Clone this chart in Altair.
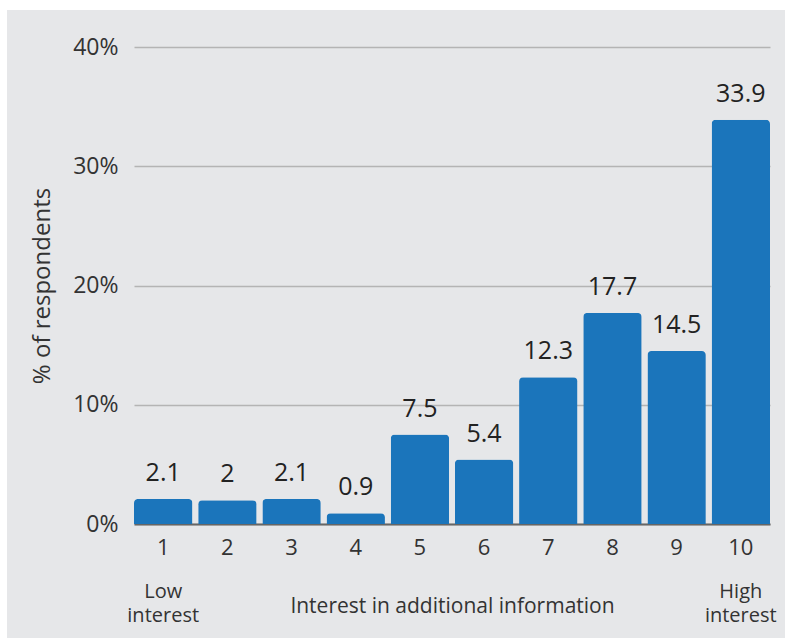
import altair as alt
import pandas as pd

# Survey results: interest in additional information (1 = low, 10 = high)
scores = ["1", "2", "3", "4", "5", "6", "7", "8", "9", "10"]
shares = [2.1, 2, 2.1, 0.9, 7.5, 5.4, 12.3, 17.7, 14.5, 33.9]
value_labels = ["2.1", "2", "2.1", "0.9", "7.5", "5.4", "12.3", "17.7", "14.5", "33.9"]

# scale-end captions under the first and last scores, two lines each
end_scores = ["1", "10"]
end_first_line = ["Low", "High"]
end_second_line = ["interest", "interest"]

df = pd.DataFrame({"score": scores, "share": shares, "label": value_labels})
ends_df = pd.DataFrame({"score": end_scores, "first": end_first_line, "second": end_second_line})

FONT = "Open Sans"
BLUE = "#1b75bb"
PANEL = "#e6e7e9"

x_enc = alt.X(
    "score:N",
    sort=scores,
    scale=alt.Scale(paddingInner=0.09, paddingOuter=0.0),
    axis=alt.Axis(
        title="Interest in additional information",
        titleFont=FONT, titleFontSize=21, titleFontWeight="normal", titleColor="#333333",
        titlePadding=37,
        labelFont=FONT, labelFontSize=22, labelColor="#333333", labelPadding=13,
        labelAngle=0, ticks=False, domain=True, domainColor="#666666", domainWidth=2,
    ),
)
y_enc = alt.Y(
    "share:Q",
    scale=alt.Scale(domain=[0, 40], nice=False),
    axis=alt.Axis(
        title="% of respondents",
        titleFont=FONT, titleFontSize=24, titleFontWeight="normal", titleColor="#333333",
        titlePadding=18,
        values=[0, 10, 20, 30, 40],
        labelExpr="datum.value + '%'",
        labelFont=FONT, labelFontSize=23, labelColor="#333333", labelPadding=16,
        ticks=False, domain=False,
        grid=True, gridColor="#b4b4b4", gridWidth=1.6,
    ),
)

# white page margin above and to the left of the grey panel
margin_left = alt.Chart(pd.DataFrame({"k": [0]})).mark_rect(color="white", clip=False).encode(
    x=alt.value(-134), x2=alt.value(-127), y=alt.value(-47), y2=alt.value(591)
)
margin_top = alt.Chart(pd.DataFrame({"k": [0]})).mark_rect(color="white", clip=False).encode(
    x=alt.value(-134), x2=alt.value(651), y=alt.value(-47), y2=alt.value(-37)
)

bars = alt.Chart(df).mark_bar(color=BLUE, cornerRadiusTopLeft=4, cornerRadiusTopRight=4).encode(
    x=x_enc, y=y_enc
)

labels = alt.Chart(df).mark_text(
    font=FONT, fontSize=25, fontWeight=500, color="#222222", baseline="bottom", dy=-13
).encode(x=alt.X("score:N", sort=scores), y="share:Q", text="label:N")

end_style = dict(font=FONT, fontSize=20, color="#333333", baseline="middle")
ends_top = alt.Chart(ends_df).mark_text(**end_style).encode(
    x=alt.X("score:N", sort=scores), y=alt.value(545), text="first:N"
)
ends_bottom = alt.Chart(ends_df).mark_text(**end_style).encode(
    x=alt.X("score:N", sort=scores), y=alt.value(569), text="second:N"
)

chart = alt.layer(bars, labels, ends_top, ends_bottom, margin_left, margin_top).properties(
    width=636, height=477,
    padding={"left": 134, "top": 47, "right": 15, "bottom": 114},
    autosize=alt.AutoSizeParams(type="none"),
    background=PANEL,
).configure_view(stroke=None)

chart.save("out.html", embed_options={"renderer": "svg", "actions": False})
